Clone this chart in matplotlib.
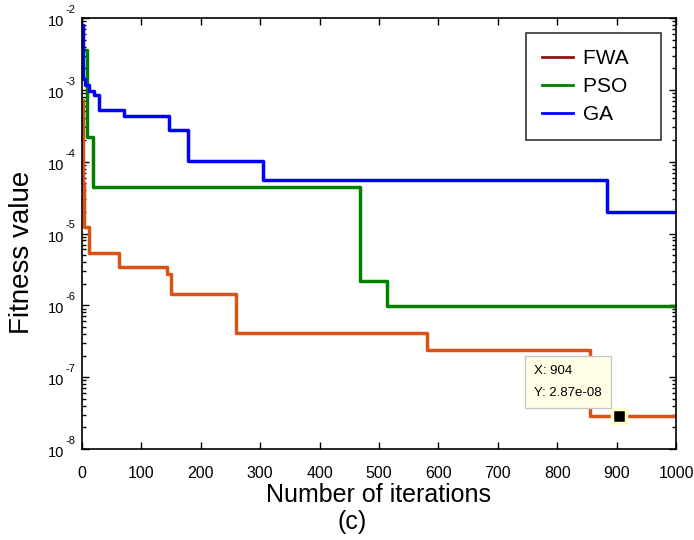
import matplotlib
matplotlib.use("Agg")
import matplotlib.pyplot as plt
from matplotlib.lines import Line2D
from matplotlib.ticker import LogLocator, FixedLocator, NullFormatter
import numpy as np

plt.rcParams['font.family'] = ['Liberation Sans', 'DejaVu Sans']

# Best fitness found so far, recorded at the iterations where it improves
fwa_iter = [0, 1, 2, 3, 11, 62, 143, 149, 260, 580, 856, 1000]
fwa_fit = [7.2e-4, 2.0e-4, 5.0e-5, 1.24e-5, 5.28e-6, 3.44e-6, 2.72e-6,
           1.42e-6, 4.07e-7, 2.39e-7, 2.87e-8, 2.87e-8]

pso_iter = [0, 9, 18, 468, 513, 1000]
pso_fit = [3.6e-3, 2.2e-4, 4.46e-5, 2.2e-6, 9.8e-7, 9.8e-7]

ga_iter = [0, 2, 5, 12, 21, 28, 71, 146, 178, 305, 883, 1000]
ga_fit = [8.0e-3, 1.4e-3, 1.15e-3, 9.7e-4, 8.5e-4, 5.2e-4, 4.3e-4, 2.8e-4,
          1.02e-4, 5.5e-5, 2.0e-5, 2.0e-5]

labels = ["FWA", "PSO", "GA"]
x_ticks = list(range(0, 1001, 100))
y_exponents = [-8, -7, -6, -5, -4, -3, -2]

tip_x = 904
tip_y = 2.87e-8
tip_text = "X: 904\nY: 2.87e-08"

fig = plt.figure(figsize=(6.94, 5.40), dpi=100)
ax = fig.add_axes([82 / 694, 1 - 449 / 540, (676 - 82) / 694, (449 - 18) / 540])

ax.step(fwa_iter, fwa_fit, where='post', color='#D95319', lw=2.5)
ax.step(pso_iter, pso_fit, where='post', color='#008000', lw=2.5)
ax.step(ga_iter, ga_fit, where='post', color='#0000FF', lw=2.5)

ax.set_yscale('log')
ax.set_xlim(0, 1000)
ax.set_ylim(10.0 ** y_exponents[0], 10.0 ** y_exponents[-1])

ax.xaxis.set_major_locator(FixedLocator(x_ticks))
ax.yaxis.set_major_locator(FixedLocator([10.0 ** e for e in y_exponents]))
ax.yaxis.set_minor_locator(LogLocator(base=10, subs=np.arange(2, 10), numticks=20))
ax.yaxis.set_minor_formatter(NullFormatter())
ax.yaxis.set_major_formatter(NullFormatter())

ax.tick_params(which='both', direction='in', top=True, right=True, width=1.0)
ax.tick_params(which='major', length=5)
ax.tick_params(which='minor', length=3)
ax.tick_params(axis='x', labelsize=11.5, pad=12)
for s in ax.spines.values():
    s.set_linewidth(1.2)

# Power-of-ten labels: base with a raised exponent
for e in y_exponents:
    ax.annotate("10", xy=(0, 10.0 ** e), xycoords=('axes fraction', 'data'),
                xytext=(-18, -4), textcoords='offset pixels',
                ha='right', va='center', fontsize=10.5)
    ax.annotate("%d" % e, xy=(0, 10.0 ** e), xycoords=('axes fraction', 'data'),
                xytext=(-17, 8), textcoords='offset pixels',
                ha='left', va='center', fontsize=8)

ax.set_xlabel("Number of iterations", fontsize=18, labelpad=2)
fig.text(22 / 694, 1 - 252 / 540, "Fitness value", fontsize=20,
         rotation=90, ha='center', va='center')

# Legend with its own swatch colours
handles = [Line2D([], [], color='#8B1414', lw=2),
           Line2D([], [], color='#008000', lw=2),
           Line2D([], [], color='#0000FF', lw=2)]
leg = ax.legend(handles, [l + "   " for l in labels], loc='upper right',
                bbox_to_anchor=(0.9755, 0.966),
                fontsize=15, frameon=True, fancybox=False, edgecolor='black',
                borderpad=0.8, handlelength=1.45, handletextpad=0.5,
                labelspacing=0.42, borderaxespad=0)
leg.get_frame().set_linewidth(1.2)

# Data tip on the FWA curve
ax.plot([tip_x], [tip_y], marker='s', ms=10, color='black',
        mec='#FFFFCC', mew=2.5, zorder=5)
ax.annotate(tip_text, xy=(tip_x, tip_y), xytext=(-17, 17), textcoords='offset pixels',
            ha='right', va='bottom', multialignment='left',
            fontsize=9.5, linespacing=2.1,
            bbox=dict(boxstyle='square,pad=0.7', fc='#FFFFE6', ec='#C8C8C8', lw=1),
            zorder=6)

fig.text(352 / 694, 1 - 522 / 540, "(c)", fontsize=18, ha='center', va='center')

fig.savefig("out.png", dpi=100)
